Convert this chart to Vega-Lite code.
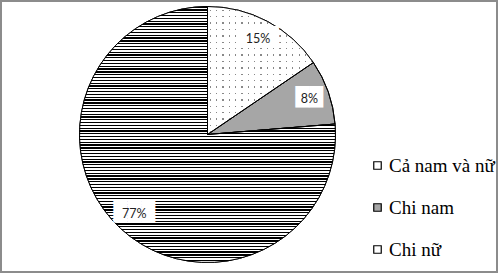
{
  "$schema": "https://vega.github.io/schema/vega-lite/v6.json",
  "width": 496,
  "height": 271,
  "autosize": {"type": "none"},
  "padding": 1,
  "background": "#ffffff",
  "view": {"stroke": "#8c8c8c", "strokeWidth": 2},
  "config": {
    "view": {"stroke": "#8c8c8c", "strokeWidth": 2},
    "style": {"cell": {"stroke": "#8c8c8c", "strokeWidth": 2}, "view": {"stroke": "#8c8c8c", "strokeWidth": 2}},
    "legend": {
      "orient": "none",
      "legendX": 367,
      "legendY": 155,
      "padding": 0,
      "symbolType": "square",
      "symbolSize": 56,
      "symbolStrokeColor": "#000000",
      "symbolStrokeWidth": 1.2,
      "labelFont": "Liberation Serif",
      "labelFontSize": 19,
      "labelColor": "#000000",
      "labelOffset": 2,
      "rowPadding": 22,
      "labelLimit": 200
    }
  },
  "data": {
    "values": [
      {"cat": "Cả nam và nữ", "value": 15.5, "label": "15%", "o": 1},
      {"cat": "Chi nam", "value": 8.2, "label": "8%", "o": 2},
      {"cat": "Chi nữ", "value": 76.3, "label": "77%", "o": 3}
    ]
  },
  "encoding": {
    "theta": {"field": "value", "type": "quantitative", "stack": true},
    "order": {"field": "o", "type": "quantitative"}
  },
  "layer": [
    {
      "mark": {"type": "arc", "x": 206.5, "y": 133.5, "radius": 128, "stroke": "#000000", "strokeWidth": 1},
      "encoding": {
        "fill": {
          "field": "cat",
          "type": "nominal",
          "scale": {"domain": ["Cả nam và nữ", "Chi nam", "Chi nữ"], "range": ["#ffffff", "#a6a6a6", "#ffffff"]},
          "legend": {"title": null}
        }
      }
    },
    {
      "mark": {"type": "arc", "x": 206.5, "y": 133.5, "radius": 128},
      "encoding": {
        "fill": {
          "condition": [
            {"test": "datum.cat === 'Chi nữ'", "value": {"gradient": "linear", "x1": 0, "y1": 0, "x2": 0, "y2": 1, "stops": [
{"offset":0,"color":"#000"},{"offset":0.005,"color":"#000"},{"offset":0.005,"color":"#fff"},{"offset":0.011,"color":"#fff"},
{"offset":0.011,"color":"#000"},{"offset":0.016,"color":"#000"},{"offset":0.016,"color":"#fff"},{"offset":0.022,"color":"#fff"},
{"offset":0.022,"color":"#000"},{"offset":0.027,"color":"#000"},{"offset":0.027,"color":"#fff"},{"offset":0.033,"color":"#fff"},
{"offset":0.033,"color":"#000"},{"offset":0.038,"color":"#000"},{"offset":0.038,"color":"#fff"},{"offset":0.044,"color":"#fff"},
{"offset":0.044,"color":"#000"},{"offset":0.049,"color":"#000"},{"offset":0.049,"color":"#fff"},{"offset":0.055,"color":"#fff"},
{"offset":0.055,"color":"#000"},{"offset":0.06,"color":"#000"},{"offset":0.06,"color":"#fff"},{"offset":0.066,"color":"#fff"},
{"offset":0.066,"color":"#000"},{"offset":0.071,"color":"#000"},{"offset":0.071,"color":"#fff"},{"offset":0.077,"color":"#fff"},
{"offset":0.077,"color":"#000"},{"offset":0.082,"color":"#000"},{"offset":0.082,"color":"#fff"},{"offset":0.088,"color":"#fff"},
{"offset":0.088,"color":"#000"},{"offset":0.093,"color":"#000"},{"offset":0.093,"color":"#fff"},{"offset":0.099,"color":"#fff"},
{"offset":0.099,"color":"#000"},{"offset":0.104,"color":"#000"},{"offset":0.104,"color":"#fff"},{"offset":0.11,"color":"#fff"},
{"offset":0.11,"color":"#000"},{"offset":0.115,"color":"#000"},{"offset":0.115,"color":"#fff"},{"offset":0.121,"color":"#fff"},
{"offset":0.121,"color":"#000"},{"offset":0.126,"color":"#000"},{"offset":0.126,"color":"#fff"},{"offset":0.132,"color":"#fff"},
{"offset":0.132,"color":"#000"},{"offset":0.137,"color":"#000"},{"offset":0.137,"color":"#fff"},{"offset":0.143,"color":"#fff"},
{"offset":0.143,"color":"#000"},{"offset":0.148,"color":"#000"},{"offset":0.148,"color":"#fff"},{"offset":0.154,"color":"#fff"},
{"offset":0.154,"color":"#000"},{"offset":0.159,"color":"#000"},{"offset":0.159,"color":"#fff"},{"offset":0.165,"color":"#fff"},
{"offset":0.165,"color":"#000"},{"offset":0.17,"color":"#000"},{"offset":0.17,"color":"#fff"},{"offset":0.176,"color":"#fff"},
{"offset":0.176,"color":"#000"},{"offset":0.181,"color":"#000"},{"offset":0.181,"color":"#fff"},{"offset":0.187,"color":"#fff"},
{"offset":0.187,"color":"#000"},{"offset":0.192,"color":"#000"},{"offset":0.192,"color":"#fff"},{"offset":0.198,"color":"#fff"},
{"offset":0.198,"color":"#000"},{"offset":0.203,"color":"#000"},{"offset":0.203,"color":"#fff"},{"offset":0.209,"color":"#fff"},
{"offset":0.209,"color":"#000"},{"offset":0.214,"color":"#000"},{"offset":0.214,"color":"#fff"},{"offset":0.22,"color":"#fff"},
{"offset":0.22,"color":"#000"},{"offset":0.225,"color":"#000"},{"offset":0.225,"color":"#fff"},{"offset":0.231,"color":"#fff"},
{"offset":0.231,"color":"#000"},{"offset":0.236,"color":"#000"},{"offset":0.236,"color":"#fff"},{"offset":0.242,"color":"#fff"},
{"offset":0.242,"color":"#000"},{"offset":0.247,"color":"#000"},{"offset":0.247,"color":"#fff"},{"offset":0.253,"color":"#fff"},
{"offset":0.253,"color":"#000"},{"offset":0.258,"color":"#000"},{"offset":0.258,"color":"#fff"},{"offset":0.264,"color":"#fff"},
{"offset":0.264,"color":"#000"},{"offset":0.269,"color":"#000"},{"offset":0.269,"color":"#fff"},{"offset":0.275,"color":"#fff"},
{"offset":0.275,"color":"#000"},{"offset":0.28,"color":"#000"},{"offset":0.28,"color":"#fff"},{"offset":0.286,"color":"#fff"},
{"offset":0.286,"color":"#000"},{"offset":0.291,"color":"#000"},{"offset":0.291,"color":"#fff"},{"offset":0.297,"color":"#fff"},
{"offset":0.297,"color":"#000"},{"offset":0.302,"color":"#000"},{"offset":0.302,"color":"#fff"},{"offset":0.308,"color":"#fff"},
{"offset":0.308,"color":"#000"},{"offset":0.313,"color":"#000"},{"offset":0.313,"color":"#fff"},{"offset":0.319,"color":"#fff"},
{"offset":0.319,"color":"#000"},{"offset":0.324,"color":"#000"},{"offset":0.324,"color":"#fff"},{"offset":0.33,"color":"#fff"},
{"offset":0.33,"color":"#000"},{"offset":0.335,"color":"#000"},{"offset":0.335,"color":"#fff"},{"offset":0.341,"color":"#fff"},
{"offset":0.341,"color":"#000"},{"offset":0.346,"color":"#000"},{"offset":0.346,"color":"#fff"},{"offset":0.352,"color":"#fff"},
{"offset":0.352,"color":"#000"},{"offset":0.357,"color":"#000"},{"offset":0.357,"color":"#fff"},{"offset":0.363,"color":"#fff"},
{"offset":0.363,"color":"#000"},{"offset":0.368,"color":"#000"},{"offset":0.368,"color":"#fff"},{"offset":0.374,"color":"#fff"},
{"offset":0.374,"color":"#000"},{"offset":0.379,"color":"#000"},{"offset":0.379,"color":"#fff"},{"offset":0.385,"color":"#fff"},
{"offset":0.385,"color":"#000"},{"offset":0.39,"color":"#000"},{"offset":0.39,"color":"#fff"},{"offset":0.396,"color":"#fff"},
{"offset":0.396,"color":"#000"},{"offset":0.401,"color":"#000"},{"offset":0.401,"color":"#fff"},{"offset":0.407,"color":"#fff"},
{"offset":0.407,"color":"#000"},{"offset":0.412,"color":"#000"},{"offset":0.412,"color":"#fff"},{"offset":0.418,"color":"#fff"},
{"offset":0.418,"color":"#000"},{"offset":0.423,"color":"#000"},{"offset":0.423,"color":"#fff"},{"offset":0.429,"color":"#fff"},
{"offset":0.429,"color":"#000"},{"offset":0.434,"color":"#000"},{"offset":0.434,"color":"#fff"},{"offset":0.44,"color":"#fff"},
{"offset":0.44,"color":"#000"},{"offset":0.445,"color":"#000"},{"offset":0.445,"color":"#fff"},{"offset":0.451,"color":"#fff"},
{"offset":0.451,"color":"#000"},{"offset":0.456,"color":"#000"},{"offset":0.456,"color":"#fff"},{"offset":0.462,"color":"#fff"},
{"offset":0.462,"color":"#000"},{"offset":0.467,"color":"#000"},{"offset":0.467,"color":"#fff"},{"offset":0.473,"color":"#fff"},
{"offset":0.473,"color":"#000"},{"offset":0.478,"color":"#000"},{"offset":0.478,"color":"#fff"},{"offset":0.484,"color":"#fff"},
{"offset":0.484,"color":"#000"},{"offset":0.489,"color":"#000"},{"offset":0.489,"color":"#fff"},{"offset":0.495,"color":"#fff"},
{"offset":0.495,"color":"#000"},{"offset":0.5,"color":"#000"},{"offset":0.5,"color":"#fff"},{"offset":0.506,"color":"#fff"},
{"offset":0.506,"color":"#000"},{"offset":0.511,"color":"#000"},{"offset":0.511,"color":"#fff"},{"offset":0.517,"color":"#fff"},
{"offset":0.517,"color":"#000"},{"offset":0.522,"color":"#000"},{"offset":0.522,"color":"#fff"},{"offset":0.528,"color":"#fff"},
{"offset":0.528,"color":"#000"},{"offset":0.533,"color":"#000"},{"offset":0.533,"color":"#fff"},{"offset":0.539,"color":"#fff"},
{"offset":0.539,"color":"#000"},{"offset":0.544,"color":"#000"},{"offset":0.544,"color":"#fff"},{"offset":0.55,"color":"#fff"},
{"offset":0.55,"color":"#000"},{"offset":0.555,"color":"#000"},{"offset":0.555,"color":"#fff"},{"offset":0.561,"color":"#fff"},
{"offset":0.561,"color":"#000"},{"offset":0.566,"color":"#000"},{"offset":0.566,"color":"#fff"},{"offset":0.572,"color":"#fff"},
{"offset":0.572,"color":"#000"},{"offset":0.577,"color":"#000"},{"offset":0.577,"color":"#fff"},{"offset":0.583,"color":"#fff"},
{"offset":0.583,"color":"#000"},{"offset":0.588,"color":"#000"},{"offset":0.588,"color":"#fff"},{"offset":0.594,"color":"#fff"},
{"offset":0.594,"color":"#000"},{"offset":0.599,"color":"#000"},{"offset":0.599,"color":"#fff"},{"offset":0.605,"color":"#fff"},
{"offset":0.605,"color":"#000"},{"offset":0.61,"color":"#000"},{"offset":0.61,"color":"#fff"},{"offset":0.616,"color":"#fff"},
{"offset":0.616,"color":"#000"},{"offset":0.621,"color":"#000"},{"offset":0.621,"color":"#fff"},{"offset":0.627,"color":"#fff"},
{"offset":0.627,"color":"#000"},{"offset":0.632,"color":"#000"},{"offset":0.632,"color":"#fff"},{"offset":0.638,"color":"#fff"},
{"offset":0.638,"color":"#000"},{"offset":0.643,"color":"#000"},{"offset":0.643,"color":"#fff"},{"offset":0.649,"color":"#fff"},
{"offset":0.649,"color":"#000"},{"offset":0.654,"color":"#000"},{"offset":0.654,"color":"#fff"},{"offset":0.66,"color":"#fff"},
{"offset":0.66,"color":"#000"},{"offset":0.665,"color":"#000"},{"offset":0.665,"color":"#fff"},{"offset":0.671,"color":"#fff"},
{"offset":0.671,"color":"#000"},{"offset":0.676,"color":"#000"},{"offset":0.676,"color":"#fff"},{"offset":0.682,"color":"#fff"},
{"offset":0.682,"color":"#000"},{"offset":0.687,"color":"#000"},{"offset":0.687,"color":"#fff"},{"offset":0.693,"color":"#fff"},
{"offset":0.693,"color":"#000"},{"offset":0.698,"color":"#000"},{"offset":0.698,"color":"#fff"},{"offset":0.704,"color":"#fff"},
{"offset":0.704,"color":"#000"},{"offset":0.709,"color":"#000"},{"offset":0.709,"color":"#fff"},{"offset":0.715,"color":"#fff"},
{"offset":0.715,"color":"#000"},{"offset":0.72,"color":"#000"},{"offset":0.72,"color":"#fff"},{"offset":0.726,"color":"#fff"},
{"offset":0.726,"color":"#000"},{"offset":0.731,"color":"#000"},{"offset":0.731,"color":"#fff"},{"offset":0.737,"color":"#fff"},
{"offset":0.737,"color":"#000"},{"offset":0.742,"color":"#000"},{"offset":0.742,"color":"#fff"},{"offset":0.748,"color":"#fff"},
{"offset":0.748,"color":"#000"},{"offset":0.753,"color":"#000"},{"offset":0.753,"color":"#fff"},{"offset":0.759,"color":"#fff"},
{"offset":0.759,"color":"#000"},{"offset":0.764,"color":"#000"},{"offset":0.764,"color":"#fff"},{"offset":0.77,"color":"#fff"},
{"offset":0.77,"color":"#000"},{"offset":0.775,"color":"#000"},{"offset":0.775,"color":"#fff"},{"offset":0.781,"color":"#fff"},
{"offset":0.781,"color":"#000"},{"offset":0.786,"color":"#000"},{"offset":0.786,"color":"#fff"},{"offset":0.792,"color":"#fff"},
{"offset":0.792,"color":"#000"},{"offset":0.797,"color":"#000"},{"offset":0.797,"color":"#fff"},{"offset":0.803,"color":"#fff"},
{"offset":0.803,"color":"#000"},{"offset":0.808,"color":"#000"},{"offset":0.808,"color":"#fff"},{"offset":0.814,"color":"#fff"},
{"offset":0.814,"color":"#000"},{"offset":0.819,"color":"#000"},{"offset":0.819,"color":"#fff"},{"offset":0.825,"color":"#fff"},
{"offset":0.825,"color":"#000"},{"offset":0.83,"color":"#000"},{"offset":0.83,"color":"#fff"},{"offset":0.836,"color":"#fff"},
{"offset":0.836,"color":"#000"},{"offset":0.841,"color":"#000"},{"offset":0.841,"color":"#fff"},{"offset":0.847,"color":"#fff"},
{"offset":0.847,"color":"#000"},{"offset":0.852,"color":"#000"},{"offset":0.852,"color":"#fff"},{"offset":0.858,"color":"#fff"},
{"offset":0.858,"color":"#000"},{"offset":0.863,"color":"#000"},{"offset":0.863,"color":"#fff"},{"offset":0.869,"color":"#fff"},
{"offset":0.869,"color":"#000"},{"offset":0.874,"color":"#000"},{"offset":0.874,"color":"#fff"},{"offset":0.88,"color":"#fff"},
{"offset":0.88,"color":"#000"},{"offset":0.885,"color":"#000"},{"offset":0.885,"color":"#fff"},{"offset":0.891,"color":"#fff"},
{"offset":0.891,"color":"#000"},{"offset":0.896,"color":"#000"},{"offset":0.896,"color":"#fff"},{"offset":0.902,"color":"#fff"},
{"offset":0.902,"color":"#000"},{"offset":0.907,"color":"#000"},{"offset":0.907,"color":"#fff"},{"offset":0.913,"color":"#fff"},
{"offset":0.913,"color":"#000"},{"offset":0.918,"color":"#000"},{"offset":0.918,"color":"#fff"},{"offset":0.924,"color":"#fff"},
{"offset":0.924,"color":"#000"},{"offset":0.929,"color":"#000"},{"offset":0.929,"color":"#fff"},{"offset":0.935,"color":"#fff"},
{"offset":0.935,"color":"#000"},{"offset":0.94,"color":"#000"},{"offset":0.94,"color":"#fff"},{"offset":0.946,"color":"#fff"},
{"offset":0.946,"color":"#000"},{"offset":0.951,"color":"#000"},{"offset":0.951,"color":"#fff"},{"offset":0.957,"color":"#fff"},
{"offset":0.957,"color":"#000"},{"offset":0.962,"color":"#000"},{"offset":0.962,"color":"#fff"},{"offset":0.968,"color":"#fff"},
{"offset":0.968,"color":"#000"},{"offset":0.973,"color":"#000"},{"offset":0.973,"color":"#fff"},{"offset":0.979,"color":"#fff"},
{"offset":0.979,"color":"#000"},{"offset":0.984,"color":"#000"},{"offset":0.984,"color":"#fff"},{"offset":0.99,"color":"#fff"},
{"offset":0.99,"color":"#000"},{"offset":0.995,"color":"#000"},{"offset":0.995,"color":"#fff"},{"offset":1,"color":"#fff"}
            ]}},
            {"test": "datum.cat === 'Cả nam và nữ'", "value": {"gradient": "linear", "x1": 0, "y1": 0, "x2": 1, "y2": 0, "stops": [
{"offset":0,"color":"#fff"},
{"offset":0.02,"color":"#fff"},{"offset":0.02,"color":"#888"},{"offset":0.032,"color":"#888"},{"offset":0.032,"color":"#fff"},
{"offset":0.08,"color":"#fff"},{"offset":0.08,"color":"#888"},{"offset":0.092,"color":"#888"},{"offset":0.092,"color":"#fff"},
{"offset":0.14,"color":"#fff"},{"offset":0.14,"color":"#888"},{"offset":0.152,"color":"#888"},{"offset":0.152,"color":"#fff"},
{"offset":0.2,"color":"#fff"},{"offset":0.2,"color":"#888"},{"offset":0.212,"color":"#888"},{"offset":0.212,"color":"#fff"},
{"offset":0.26,"color":"#fff"},{"offset":0.26,"color":"#888"},{"offset":0.272,"color":"#888"},{"offset":0.272,"color":"#fff"},
{"offset":0.32,"color":"#fff"},{"offset":0.32,"color":"#888"},{"offset":0.332,"color":"#888"},{"offset":0.332,"color":"#fff"},
{"offset":0.38,"color":"#fff"},{"offset":0.38,"color":"#888"},{"offset":0.392,"color":"#888"},{"offset":0.392,"color":"#fff"},
{"offset":0.44,"color":"#fff"},{"offset":0.44,"color":"#888"},{"offset":0.452,"color":"#888"},{"offset":0.452,"color":"#fff"},
{"offset":0.5,"color":"#fff"},{"offset":0.5,"color":"#888"},{"offset":0.512,"color":"#888"},{"offset":0.512,"color":"#fff"},
{"offset":0.56,"color":"#fff"},{"offset":0.56,"color":"#888"},{"offset":0.572,"color":"#888"},{"offset":0.572,"color":"#fff"},
{"offset":0.62,"color":"#fff"},{"offset":0.62,"color":"#888"},{"offset":0.632,"color":"#888"},{"offset":0.632,"color":"#fff"},
{"offset":0.68,"color":"#fff"},{"offset":0.68,"color":"#888"},{"offset":0.692,"color":"#888"},{"offset":0.692,"color":"#fff"},
{"offset":0.74,"color":"#fff"},{"offset":0.74,"color":"#888"},{"offset":0.752,"color":"#888"},{"offset":0.752,"color":"#fff"},
{"offset":0.8,"color":"#fff"},{"offset":0.8,"color":"#888"},{"offset":0.812,"color":"#888"},{"offset":0.812,"color":"#fff"},
{"offset":0.86,"color":"#fff"},{"offset":0.86,"color":"#888"},{"offset":0.872,"color":"#888"},{"offset":0.872,"color":"#fff"},
{"offset":0.92,"color":"#fff"},{"offset":0.92,"color":"#888"},{"offset":0.932,"color":"#888"},{"offset":0.932,"color":"#fff"},
{"offset":0.98,"color":"#fff"},{"offset":0.98,"color":"#888"},{"offset":0.992,"color":"#888"},{"offset":0.992,"color":"#fff"},
{"offset":1,"color":"#fff"}
            ]}}
          ],
          "value": "transparent"
        }
      }
    },
    {
      "mark": {"type": "arc", "x": 206.5, "y": 133.5, "radius": 128},
      "encoding": {
        "fill": {
          "condition": {"test": "datum.cat === 'Cả nam và nữ'", "value": {"gradient": "linear", "x1": 0, "y1": 0, "x2": 0, "y2": 1, "stops": [
{"offset":0,"color":"#fff"},
{"offset":0.025,"color":"#fff"},{"offset":0.025,"color":"rgba(255,255,255,0)"},{"offset":0.035,"color":"rgba(255,255,255,0)"},{"offset":0.035,"color":"#fff"},
{"offset":0.075,"color":"#fff"},{"offset":0.075,"color":"rgba(255,255,255,0)"},{"offset":0.085,"color":"rgba(255,255,255,0)"},{"offset":0.085,"color":"#fff"},
{"offset":0.125,"color":"#fff"},{"offset":0.125,"color":"rgba(255,255,255,0)"},{"offset":0.135,"color":"rgba(255,255,255,0)"},{"offset":0.135,"color":"#fff"},
{"offset":0.175,"color":"#fff"},{"offset":0.175,"color":"rgba(255,255,255,0)"},{"offset":0.185,"color":"rgba(255,255,255,0)"},{"offset":0.185,"color":"#fff"},
{"offset":0.225,"color":"#fff"},{"offset":0.225,"color":"rgba(255,255,255,0)"},{"offset":0.235,"color":"rgba(255,255,255,0)"},{"offset":0.235,"color":"#fff"},
{"offset":0.275,"color":"#fff"},{"offset":0.275,"color":"rgba(255,255,255,0)"},{"offset":0.285,"color":"rgba(255,255,255,0)"},{"offset":0.285,"color":"#fff"},
{"offset":0.325,"color":"#fff"},{"offset":0.325,"color":"rgba(255,255,255,0)"},{"offset":0.335,"color":"rgba(255,255,255,0)"},{"offset":0.335,"color":"#fff"},
{"offset":0.375,"color":"#fff"},{"offset":0.375,"color":"rgba(255,255,255,0)"},{"offset":0.385,"color":"rgba(255,255,255,0)"},{"offset":0.385,"color":"#fff"},
{"offset":0.425,"color":"#fff"},{"offset":0.425,"color":"rgba(255,255,255,0)"},{"offset":0.435,"color":"rgba(255,255,255,0)"},{"offset":0.435,"color":"#fff"},
{"offset":0.475,"color":"#fff"},{"offset":0.475,"color":"rgba(255,255,255,0)"},{"offset":0.485,"color":"rgba(255,255,255,0)"},{"offset":0.485,"color":"#fff"},
{"offset":0.525,"color":"#fff"},{"offset":0.525,"color":"rgba(255,255,255,0)"},{"offset":0.535,"color":"rgba(255,255,255,0)"},{"offset":0.535,"color":"#fff"},
{"offset":0.575,"color":"#fff"},{"offset":0.575,"color":"rgba(255,255,255,0)"},{"offset":0.585,"color":"rgba(255,255,255,0)"},{"offset":0.585,"color":"#fff"},
{"offset":0.625,"color":"#fff"},{"offset":0.625,"color":"rgba(255,255,255,0)"},{"offset":0.635,"color":"rgba(255,255,255,0)"},{"offset":0.635,"color":"#fff"},
{"offset":0.675,"color":"#fff"},{"offset":0.675,"color":"rgba(255,255,255,0)"},{"offset":0.685,"color":"rgba(255,255,255,0)"},{"offset":0.685,"color":"#fff"},
{"offset":0.725,"color":"#fff"},{"offset":0.725,"color":"rgba(255,255,255,0)"},{"offset":0.735,"color":"rgba(255,255,255,0)"},{"offset":0.735,"color":"#fff"},
{"offset":0.775,"color":"#fff"},{"offset":0.775,"color":"rgba(255,255,255,0)"},{"offset":0.785,"color":"rgba(255,255,255,0)"},{"offset":0.785,"color":"#fff"},
{"offset":0.825,"color":"#fff"},{"offset":0.825,"color":"rgba(255,255,255,0)"},{"offset":0.835,"color":"rgba(255,255,255,0)"},{"offset":0.835,"color":"#fff"},
{"offset":0.875,"color":"#fff"},{"offset":0.875,"color":"rgba(255,255,255,0)"},{"offset":0.885,"color":"rgba(255,255,255,0)"},{"offset":0.885,"color":"#fff"},
{"offset":0.925,"color":"#fff"},{"offset":0.925,"color":"rgba(255,255,255,0)"},{"offset":0.935,"color":"rgba(255,255,255,0)"},{"offset":0.935,"color":"#fff"},
{"offset":0.975,"color":"#fff"},{"offset":0.975,"color":"rgba(255,255,255,0)"},{"offset":0.985,"color":"rgba(255,255,255,0)"},{"offset":0.985,"color":"#fff"},
{"offset":1,"color":"#fff"}
          ]}},
          "value": "transparent"
        }
      }
    },
    {
      "mark": {"type": "arc", "x": 206.5, "y": 133.5, "radius": 128, "fill": "transparent", "stroke": "#000000", "strokeWidth": 1}
    },
    {
      "mark": {"type": "text", "x": 206.5, "y": 133.5, "radius": 108, "font": "DejaVu Sans", "fontSize": 18, "fill": "#ffffff", "align": "center", "baseline": "middle", "dy": -1},
      "encoding": {
        "text": {"condition": {"test": "datum.cat === 'Chi nam'", "value": "██"}, "value": "███"}
      }
    },
    {
      "mark": {"type": "text", "x": 206.5, "y": 133.5, "radius": 108, "font": "Lato", "fontSize": 12.5, "fill": "#222222", "align": "center", "baseline": "middle"},
      "encoding": {
        "text": {"field": "label", "type": "nominal"}
      }
    }
  ]
}
